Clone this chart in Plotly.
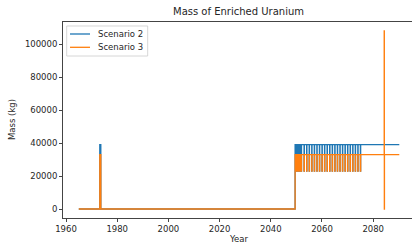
import plotly.graph_objects as go

# ---- data (step-change points, drawn as horizontal-then-vertical steps) ----
years_s2 = [1965.0, 1973.2, 1973.6,
            2049.5, 2049.6, 2049.75, 2049.85, 2050.0, 2050.1, 2050.25, 2050.35,
            2050.5, 2050.6, 2050.75, 2050.85, 2051.0, 2051.1, 2051.25, 2051.35,
            2051.5, 2051.6, 2051.75, 2051.85, 2052.0,
            2053.0, 2053.1, 2054.0, 2054.1, 2055.0, 2055.1, 2056.0, 2056.1,
            2057.0, 2057.1, 2058.0, 2058.1, 2059.0, 2059.1, 2060.0, 2060.1,
            2061.0, 2061.1, 2062.0, 2062.1, 2063.0, 2063.1, 2064.0, 2064.1,
            2065.0, 2065.1, 2066.0, 2066.1, 2067.0, 2067.1, 2068.0, 2068.1,
            2069.0, 2069.1, 2070.0, 2070.1, 2071.0, 2071.1, 2072.0, 2072.1,
            2073.0, 2073.1, 2074.0, 2074.1, 2075.0, 2075.1, 2090.2]
mass_s2 = [0, 39000, 0,
           39000, 23000, 39000, 23000, 39000, 23000, 39000, 23000,
           39000, 23000, 39000, 23000, 39000, 23000, 39000, 23000,
           39000, 23000, 39000, 23000, 39000,
           23000, 39000, 23000, 39000, 23000, 39000, 23000, 39000,
           23000, 39000, 23000, 39000, 23000, 39000, 23000, 39000,
           23000, 39000, 23000, 39000, 23000, 39000, 23000, 39000,
           23000, 39000, 23000, 39000, 23000, 39000, 23000, 39000,
           23000, 39000, 23000, 39000, 23000, 39000, 23000, 39000,
           23000, 39000, 23000, 39000, 23000, 39000, 39000]

years_s3 = [1965.0, 1973.2, 1973.6,
            2049.5, 2049.6, 2049.75, 2049.85, 2050.0, 2050.1, 2050.25, 2050.35,
            2050.5, 2050.6, 2050.75, 2050.85, 2051.0, 2051.1, 2051.25, 2051.35,
            2051.5, 2051.6, 2051.75, 2051.85, 2052.0,
            2053.0, 2053.1, 2054.0, 2054.1, 2055.0, 2055.1, 2056.0, 2056.1,
            2057.0, 2057.1, 2058.0, 2058.1, 2059.0, 2059.1, 2060.0, 2060.1,
            2061.0, 2061.1, 2062.0, 2062.1, 2063.0, 2063.1, 2064.0, 2064.1,
            2065.0, 2065.1, 2066.0, 2066.1, 2067.0, 2067.1, 2068.0, 2068.1,
            2069.0, 2069.1, 2070.0, 2070.1, 2071.0, 2071.1, 2072.0, 2072.1,
            2073.0, 2073.1, 2074.0, 2074.1, 2075.0, 2075.1,
            2084.3, 2084.35, 2084.4, 2090.2]
mass_s3 = [0, 33000, 0,
           33000, 23000, 33000, 23000, 33000, 23000, 33000, 23000,
           33000, 23000, 33000, 23000, 33000, 23000, 33000, 23000,
           33000, 23000, 33000, 23000, 33000,
           23000, 33000, 23000, 33000, 23000, 33000, 23000, 33000,
           23000, 33000, 23000, 33000, 23000, 33000, 23000, 33000,
           23000, 33000, 23000, 33000, 23000, 33000, 23000, 33000,
           23000, 33000, 23000, 33000, 23000, 33000, 23000, 33000,
           23000, 33000, 23000, 33000, 23000, 33000, 23000, 33000,
           23000, 33000, 23000, 33000, 23000, 33000,
           108000, 0, 33000, 33000]

series_names = ["Scenario 2", "Scenario 3"]
x_ticks = [1960, 1980, 2000, 2020, 2040, 2060, 2080]
y_ticks = [0, 20000, 40000, 60000, 80000, 100000]

BLUE = "#1f77b4"
ORANGE = "#ff7f0e"
FONT = "DejaVu Sans"
TXT = "#262626"
SPINE = "#444444"

fig = go.Figure()
fig.add_trace(go.Scatter(x=years_s2, y=mass_s2, mode="lines", name=series_names[0],
                         showlegend=False,
                         line=dict(color=BLUE, width=1.3, shape="hv")))
fig.add_trace(go.Scatter(x=years_s3, y=mass_s3, mode="lines", name=series_names[1],
                         showlegend=False,
                         line=dict(color=ORANGE, width=1.3, shape="hv")))

# matplotlib-style legend box (compact), drawn in paper coordinates
legend_shapes = [
    dict(type="rect", xref="paper", yref="paper", x0=0.0106, x1=0.2427, y0=0.8265, y1=0.9796,
         line=dict(color="#cccccc", width=0.8), fillcolor="rgba(255,255,255,0.8)", layer="above"),
    dict(type="line", xref="paper", yref="paper", x0=0.0201, x1=0.0774, y0=0.9388, y1=0.9388,
         line=dict(color=BLUE, width=1.3), layer="above"),
    dict(type="line", xref="paper", yref="paper", x0=0.0201, x1=0.0774, y0=0.8709, y1=0.8709,
         line=dict(color=ORANGE, width=1.3), layer="above"),
]
legend_texts = [
    dict(text=series_names[0], xref="paper", yref="paper", x=0.0946, y=0.9388,
         xanchor="left", yanchor="middle", showarrow=False,
         font=dict(family=FONT, size=8.5, color=TXT)),
    dict(text=series_names[1], xref="paper", yref="paper", x=0.0946, y=0.8709,
         xanchor="left", yanchor="middle", showarrow=False,
         font=dict(family=FONT, size=8.5, color=TXT)),
]

fig.update_layout(
    width=412, height=244,
    margin=dict(l=63, r=0, t=22, b=26),
    paper_bgcolor="white", plot_bgcolor="white",
    font=dict(family=FONT, size=8.5, color=TXT),
    showlegend=False,
    xaxis=dict(range=[1958.83, 2095.16], tickvals=x_ticks, ticktext=[str(v) for v in x_ticks],
               showgrid=False, zeroline=False, showline=True, linecolor=SPINE, linewidth=0.9,
               mirror=True, ticks="outside", ticklen=3, tickwidth=0.8, tickcolor=SPINE,
               tickfont=dict(family=FONT, size=8.5, color=TXT)),
    yaxis=dict(range=[-5455, 113333], tickvals=y_ticks, ticktext=[str(v) for v in y_ticks],
               showgrid=False, zeroline=False, showline=True, linecolor=SPINE, linewidth=0.9,
               ticks="outside", ticklen=3, tickwidth=0.8, tickcolor=SPINE,
               tickfont=dict(family=FONT, size=8.5, color=TXT)),
    shapes=legend_shapes,
    annotations=[
        dict(text="Mass of Enriched Uranium", xref="paper", yref="paper", x=0.504, y=1.0,
             yshift=3, xanchor="center", yanchor="bottom", showarrow=False,
             font=dict(family=FONT, size=10, color=TXT)),
        dict(text="Year", xref="paper", yref="paper", x=0.504, y=0, yshift=-14,
             xanchor="center", yanchor="top", showarrow=False,
             font=dict(family=FONT, size=8.5, color=TXT)),
        dict(text="Mass (kg)", xref="paper", yref="paper", x=0, xshift=-51, y=0.5,
             xanchor="center", yanchor="middle", textangle=-90, showarrow=False,
             font=dict(family=FONT, size=8.5, color=TXT)),
    ] + legend_texts,
)

fig.write_html("out.html",
               config={"displayModeBar": False},
               post_script="document.body.style.margin='0';document.body.style.overflow='hidden';")
